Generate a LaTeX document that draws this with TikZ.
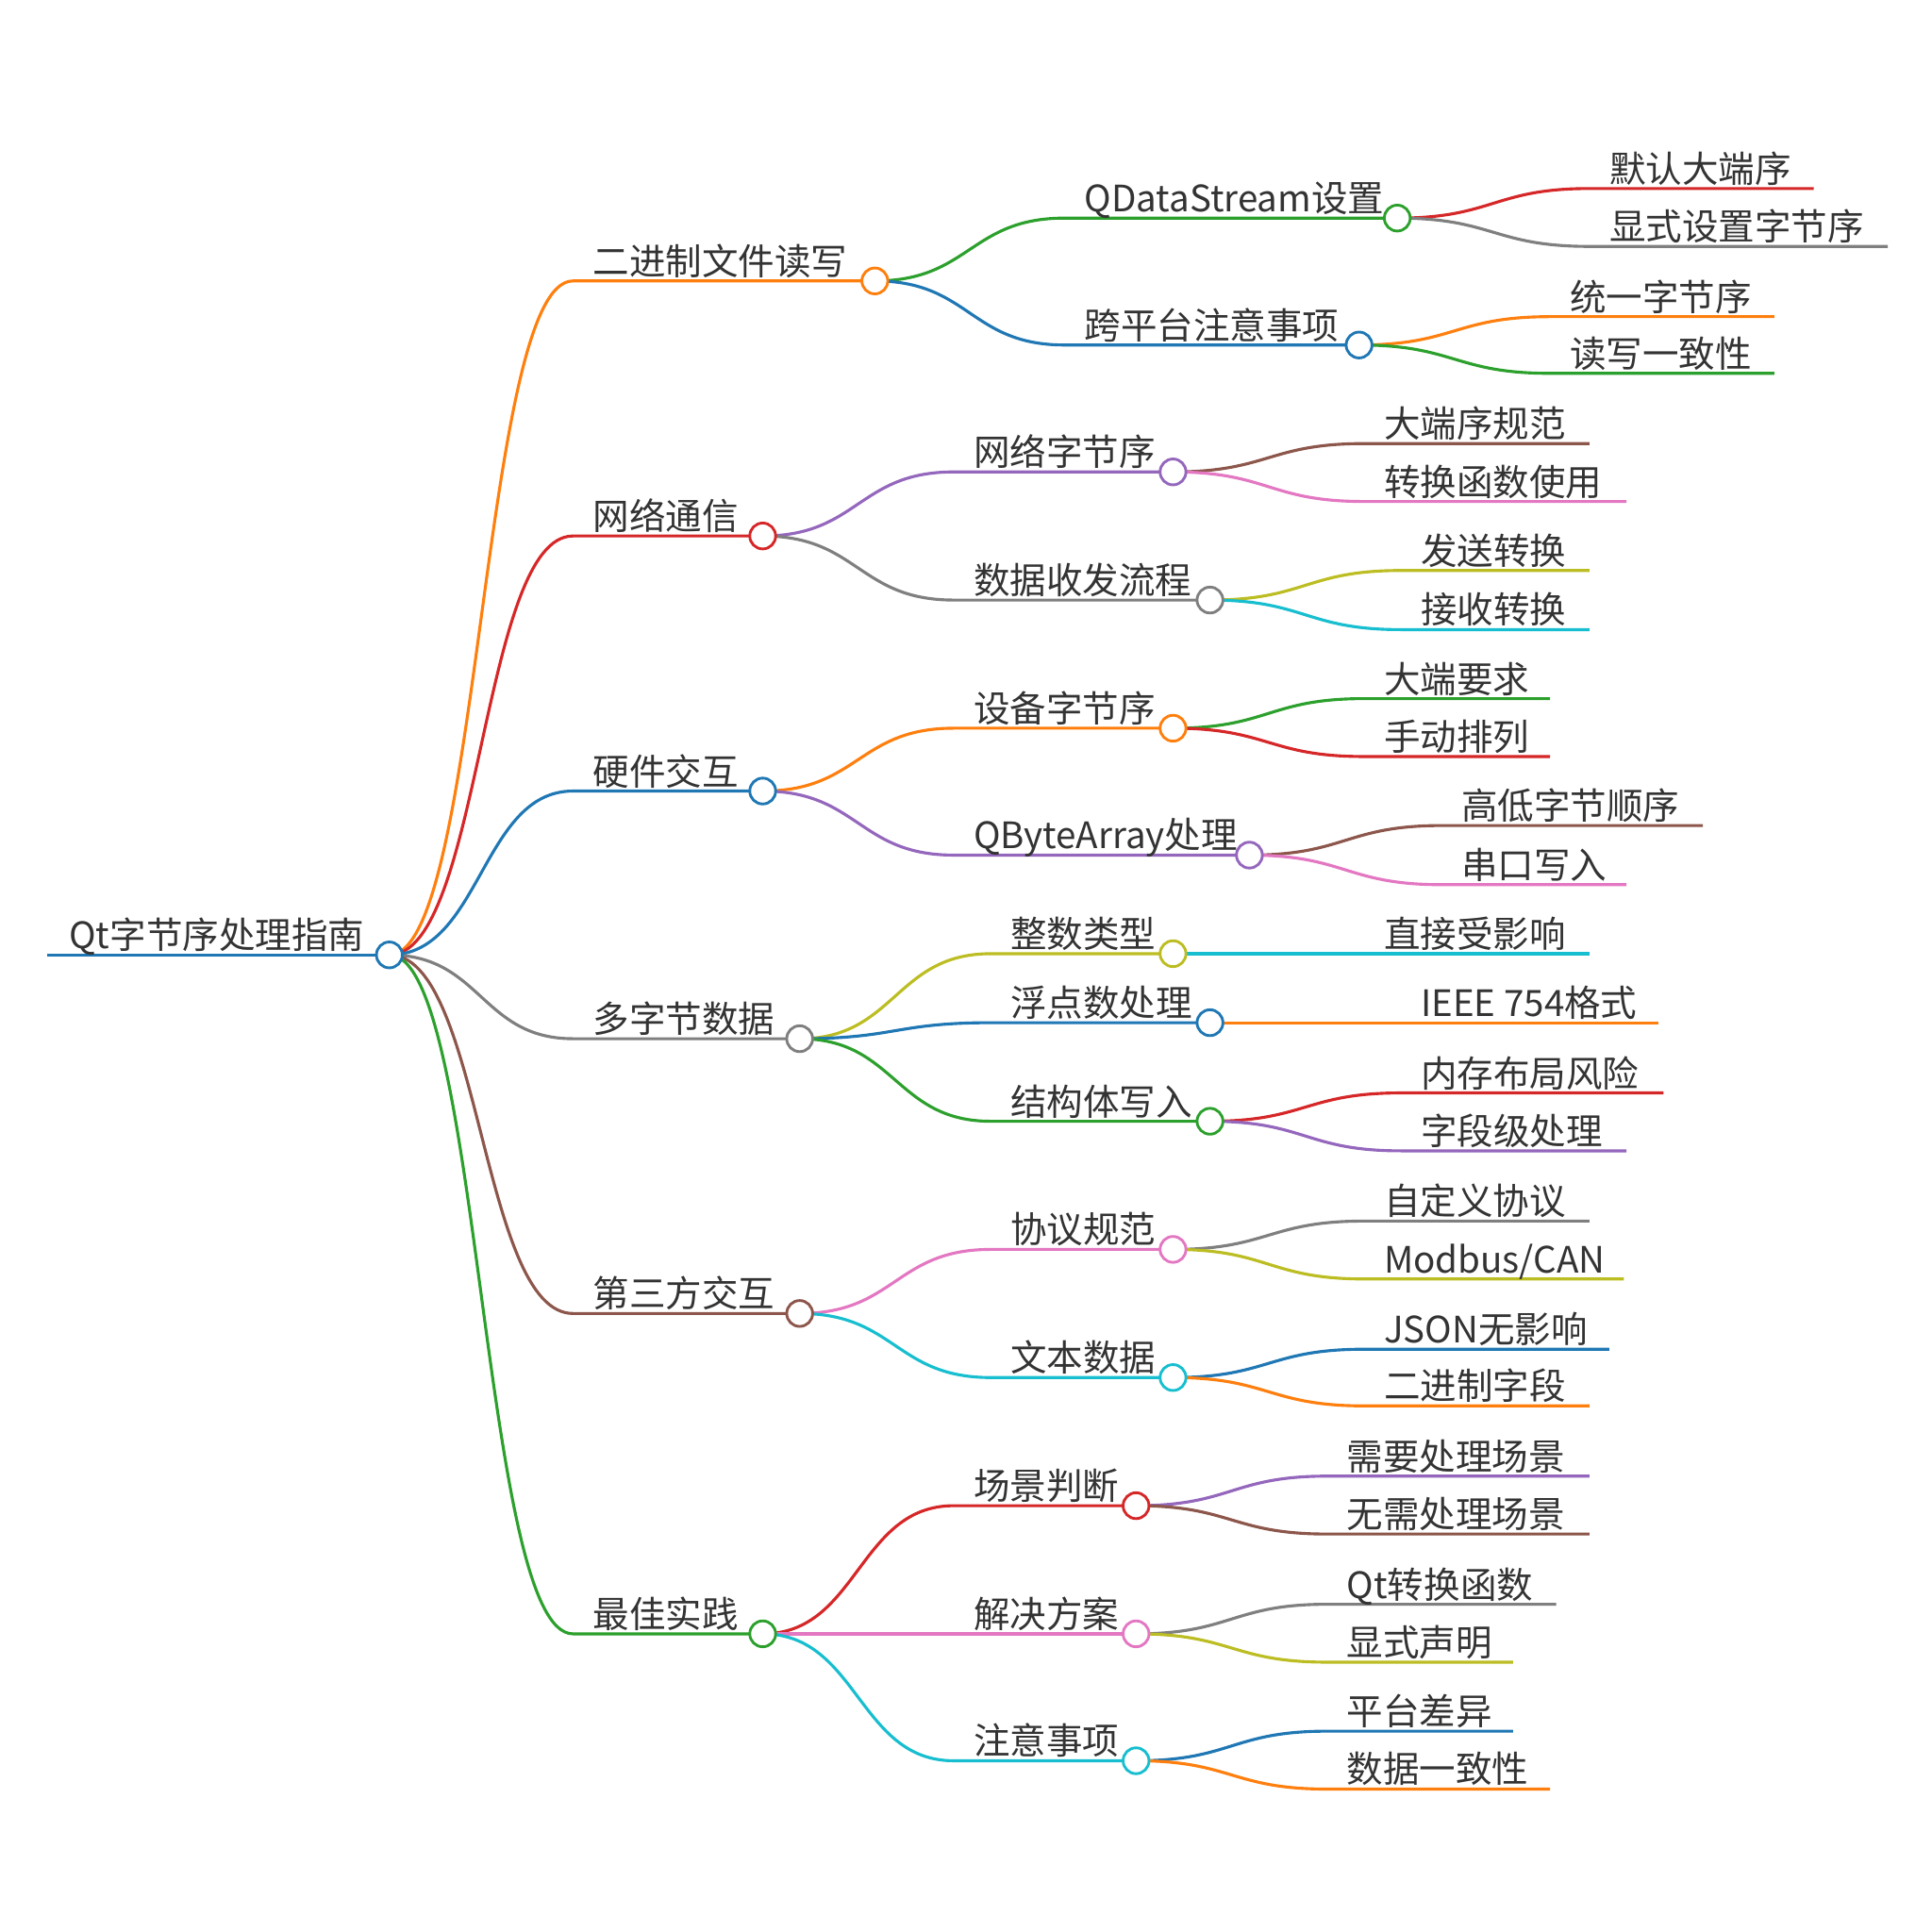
\documentclass[tikz,border=0pt]{standalone}
\usepackage{fontspec}
\newfontfamily\cjk{Noto Sans CJK SC}
\usetikzlibrary{calc}
\definecolor{cO}{HTML}{FF7F0E}\definecolor{cR}{HTML}{D62728}\definecolor{cB}{HTML}{1F77B4}
\definecolor{cG}{HTML}{7F7F7F}\definecolor{cBr}{HTML}{8C564B}\definecolor{cGr}{HTML}{2CA02C}
\definecolor{cP}{HTML}{9467BD}\definecolor{cPk}{HTML}{E377C2}\definecolor{cOl}{HTML}{BCBD22}
\definecolor{cC}{HTML}{17BECF}\definecolor{txt}{HTML}{333333}
\tikzset{edge/.style={line width=2.4pt},
 lbl/.style={anchor=base west,inner sep=0pt,font=\cjk\fontsize{29.5}{29.5}\selectfont,text=txt},
 knob/.style={circle,draw,line width=2.2pt,fill=white,minimum size=21pt,inner sep=0pt}}
\newcommand\mm[7]{%
 \coordinate (#1s) at (#3,#4); \coordinate (#1) at (#5,#4);
 \draw[edge,#6] let \p1=(#2), \p2=(#1s) in (\p1) .. controls ({(\x1+\x2)/2},\y1) and ({(\x1+\x2)/2},\y2) .. (\p2) -- (#1);
 \node[lbl] (#1t) at ($(#1s)+(16,-5)$) {#7};}
\newcommand\kn[2]{\node[knob,draw=#2] at (#1) {};}
\begin{document}
\begin{tikzpicture}[x=1pt,y=-1pt]
\useasboundingbox (0,0) rectangle (1568,1568);
\coordinate (root) at (316,775);
\coordinate (roots) at (38,775);
\draw[edge,cB] (roots) -- (root);
\node[lbl] (roott) at (56,770) {Qt字节序处理指南};
% level 1
\mm{a}{root}{465}{228}{710}{cO}{二进制文件读写}
\mm{b}{root}{465}{435}{619}{cR}{网络通信}
\mm{c}{root}{465}{642}{619}{cB}{硬件交互}
\mm{d}{root}{465}{843}{649}{cG}{多字节数据}
\mm{e}{root}{465}{1066}{649}{cBr}{第三方交互}
\mm{f}{root}{465}{1326}{619}{cGr}{最佳实践}
% level 2
\mm{a1}{a}{864}{177}{1134}{cGr}{QDataStream设置}
\mm{a2}{a}{864}{280}{1103}{cB}{跨平台注意事项}
\mm{b1}{b}{774}{383}{952}{cP}{网络字节序}
\mm{b2}{b}{774}{487}{982}{cG}{数据收发流程}
\mm{c1}{c}{774}{591}{952}{cO}{设备字节序}
\mm{c2}{c}{774}{694}{1014}{cP}{QByteArray处理}
\mm{d1}{d}{804}{774}{952}{cOl}{整数类型}
\mm{d2}{d}{804}{830}{982}{cB}{浮点数处理}
\mm{d3}{d}{804}{910}{982}{cGr}{结构体写入}
\mm{e1}{e}{804}{1014}{952}{cPk}{协议规范}
\mm{e2}{e}{804}{1118}{952}{cC}{文本数据}
\mm{f1}{f}{774}{1222}{922}{cR}{场景判断}
\mm{f2}{f}{774}{1326}{922}{cPk}{解决方案}
\mm{f3}{f}{774}{1429}{922}{cC}{注意事项}
% level 3
\mm{a11}{a1}{1290}{153}{1472}{cR}{默认大端序}
\mm{a12}{a1}{1290}{200}{1532}{cG}{显式设置字节序}
\mm{a21}{a2}{1258}{257}{1440}{cO}{统一字节序}
\mm{a22}{a2}{1258}{303}{1440}{cGr}{读写一致性}
\mm{b11}{b1}{1107}{360}{1290}{cBr}{大端序规范}
\mm{b12}{b1}{1107}{407}{1320}{cPk}{转换函数使用}
\mm{b21}{b2}{1137}{463}{1290}{cOl}{发送转换}
\mm{b22}{b2}{1137}{511}{1290}{cC}{接收转换}
\mm{c11}{c1}{1107}{567}{1258}{cGr}{大端要求}
\mm{c12}{c1}{1107}{614}{1258}{cR}{手动排列}
\mm{c21}{c2}{1170}{670}{1382}{cBr}{高低字节顺序}
\mm{c22}{c2}{1170}{718}{1320}{cPk}{串口写入}
\mm{d11}{d1}{1107}{774}{1290}{cC}{直接受影响}
\mm{d21}{d2}{1137}{830}{1346}{cO}{IEEE 754格式}
\mm{d31}{d3}{1137}{887}{1350}{cR}{内存布局风险}
\mm{d32}{d3}{1137}{934}{1320}{cP}{字段级处理}
\mm{e11}{e1}{1107}{991}{1290}{cG}{自定义协议}
\mm{e12}{e1}{1107}{1038}{1318}{cOl}{Modbus/CAN}
\mm{e21}{e2}{1107}{1095}{1306}{cB}{JSON无影响}
\mm{e22}{e2}{1107}{1141}{1290}{cO}{二进制字段}
\mm{f11}{f1}{1077}{1198}{1290}{cP}{需要处理场景}
\mm{f12}{f1}{1077}{1245}{1290}{cBr}{无需处理场景}
\mm{f21}{f2}{1077}{1302}{1263}{cG}{Qt转换函数}
\mm{f22}{f2}{1077}{1349}{1228}{cOl}{显式声明}
\mm{f31}{f3}{1077}{1405}{1228}{cB}{平台差异}
\mm{f32}{f3}{1077}{1452}{1258}{cO}{数据一致性}
% knobs
\kn{root}{cB}
\kn{a}{cO}\kn{b}{cR}\kn{c}{cB}\kn{d}{cG}\kn{e}{cBr}\kn{f}{cGr}
\kn{a1}{cGr}\kn{a2}{cB}\kn{b1}{cP}\kn{b2}{cG}\kn{c1}{cO}\kn{c2}{cP}
\kn{d1}{cOl}\kn{d2}{cB}\kn{d3}{cGr}\kn{e1}{cPk}\kn{e2}{cC}
\kn{f1}{cR}\kn{f2}{cPk}\kn{f3}{cC}
\end{tikzpicture}
\end{document}
